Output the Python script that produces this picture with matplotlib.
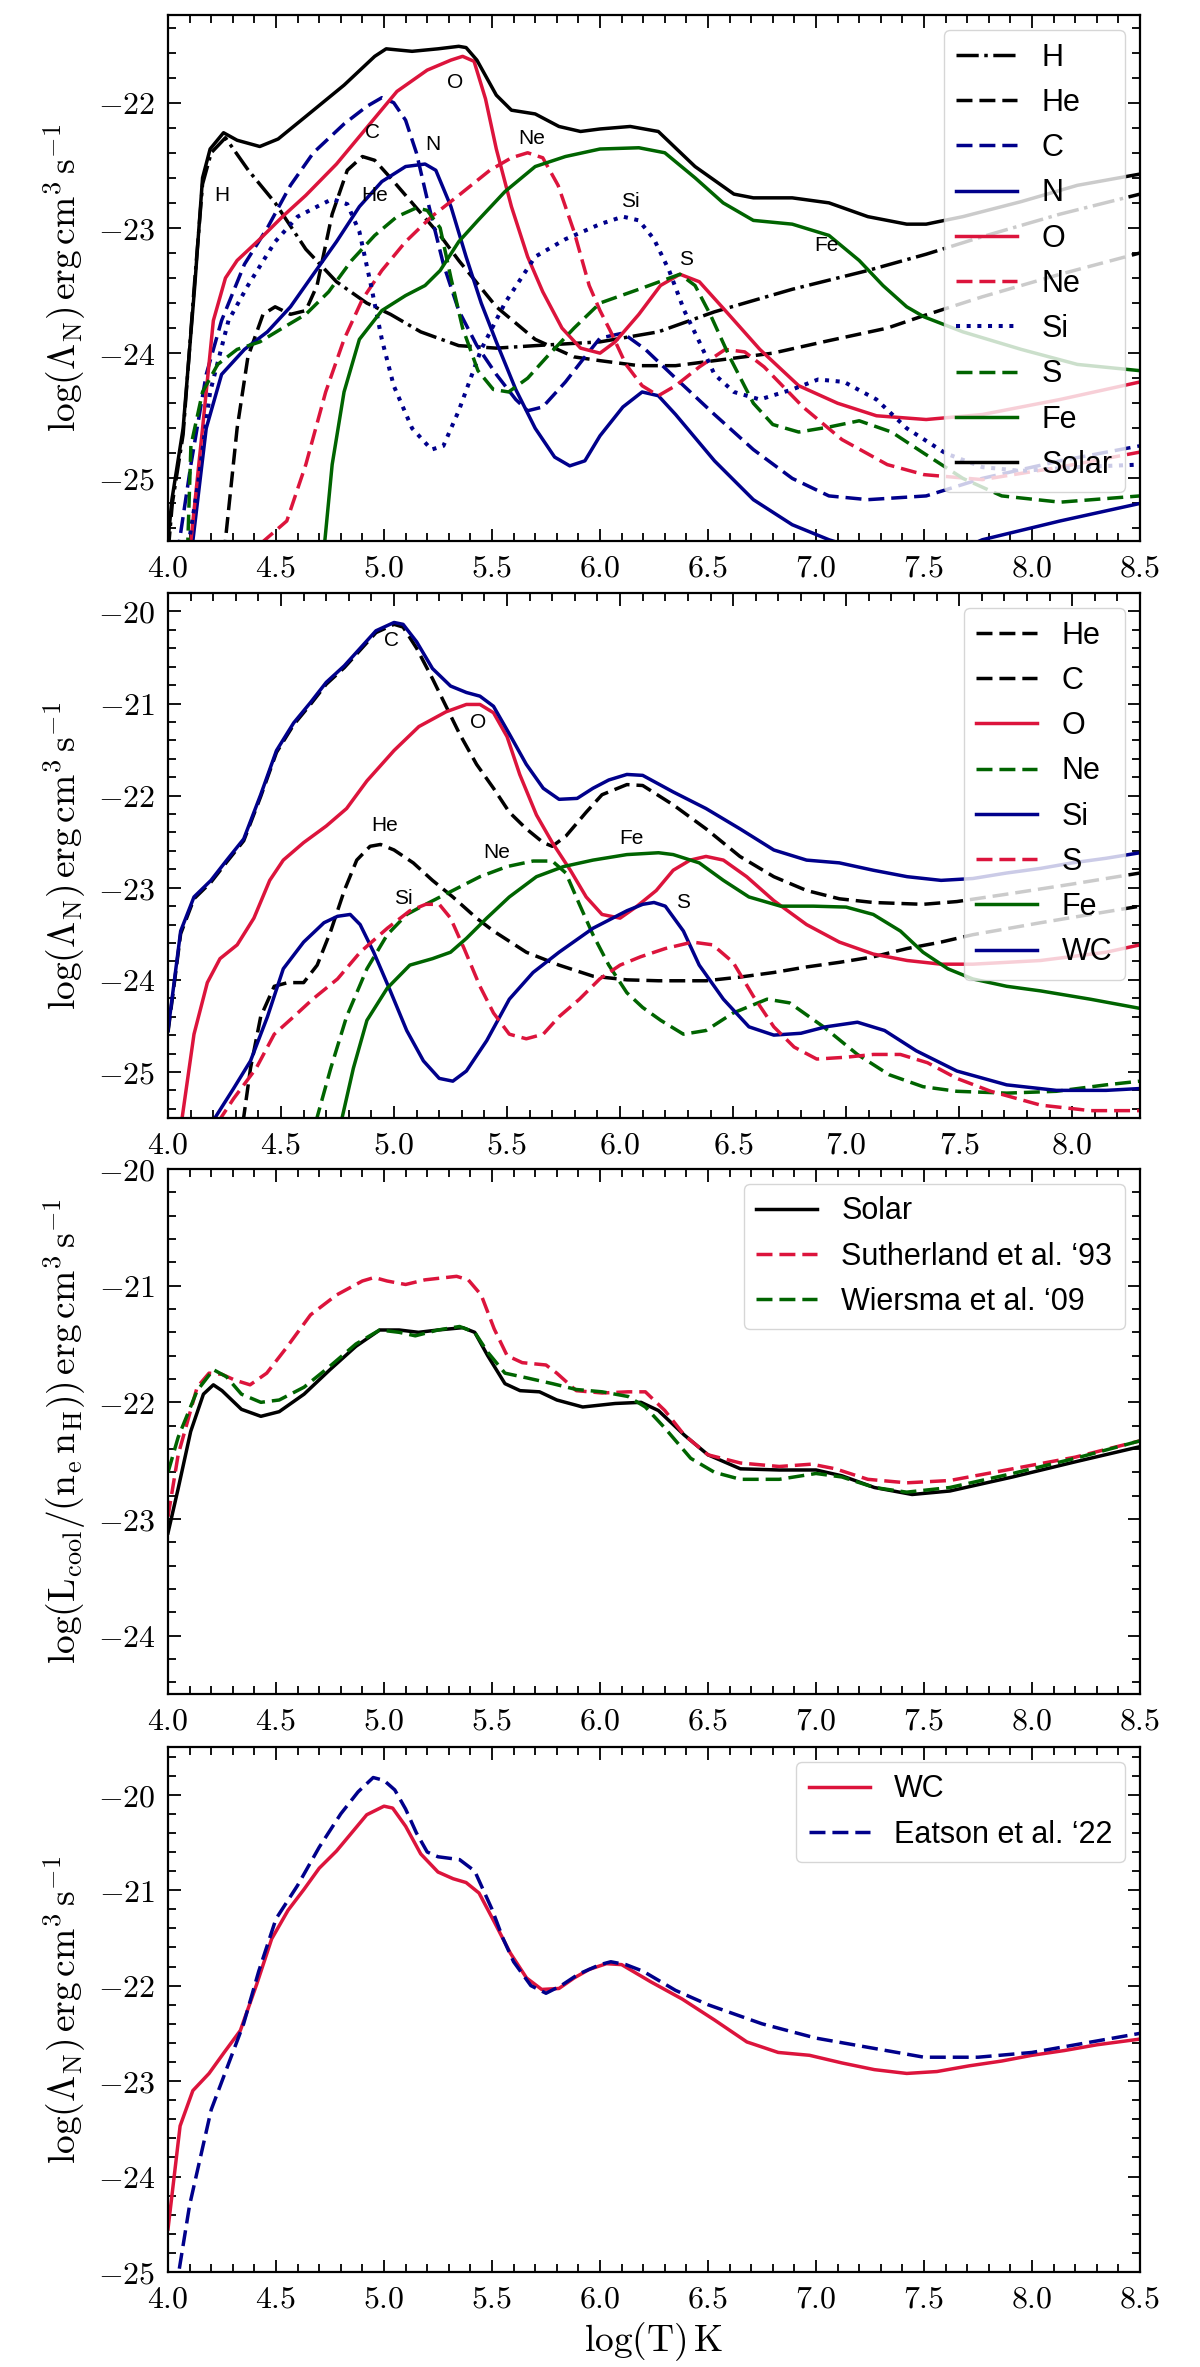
# Cooling curves: element contributions, totals and comparisons
import matplotlib
matplotlib.use("Agg")
import matplotlib.pyplot as plt
from matplotlib.ticker import MultipleLocator, FuncFormatter

plt.rcParams["mathtext.fontset"] = "cm"
plt.rcParams["font.family"] = ["Liberation Sans", "DejaVu Sans"]
plt.rcParams["lines.dashed_pattern"] = [4.6, 2.0]

BLUE = "darkblue"
RED = "crimson"
GREEN = "darkgreen"

# ---------------- panel 1: solar abundances, per element ----------------
t_h = [4.0, 4.02, 4.07, 4.12, 4.16, 4.2, 4.266, 4.372, 4.496, 4.638, 4.78, 4.92, 5.03, 5.17, 5.346,
       5.52, 5.70, 6.0, 6.27, 6.53, 6.89, 7.24, 7.51, 7.77, 8.13, 8.5]
l_h = [-25.6, -25.2, -24.65, -23.5, -22.65, -22.4, -22.28, -22.54, -22.8, -23.17, -23.43, -23.6, -23.69,
       -23.83, -23.94, -23.96, -23.94, -23.91, -23.83, -23.67, -23.49, -23.34, -23.21, -23.07, -22.89, -22.73]

t_he = [4.25, 4.266, 4.32, 4.37, 4.44, 4.496, 4.567, 4.638, 4.69, 4.76, 4.83, 4.90, 4.957, 5.03, 5.13,
        5.26, 5.346, 5.52, 5.70, 5.88, 6.0, 6.18, 6.35, 6.53, 6.8, 7.06, 7.33, 7.5, 7.77, 8.13, 8.5]
l_he = [-25.8, -25.49, -24.6, -24.03, -23.69, -23.63, -23.69, -23.66, -23.46, -22.89, -22.54, -22.43,
        -22.46, -22.6, -22.8, -23.06, -23.26, -23.63, -23.89, -24.03, -24.06, -24.1, -24.1, -24.06, -24.0,
        -23.9, -23.8, -23.7, -23.55, -23.37, -23.2]

t_c = [4.04, 4.053, 4.106, 4.177, 4.248, 4.354, 4.46, 4.567, 4.673, 4.815, 4.92, 4.99, 5.045, 5.10, 5.15,
       5.20, 5.275, 5.346, 5.43, 5.52, 5.61, 5.665, 5.735, 5.84, 5.93, 6.0, 6.106, 6.21, 6.35, 6.53, 6.71,
       6.89, 7.06, 7.24, 7.51, 7.77, 8.13, 8.5]
l_c = [-25.8, -25.5, -24.89, -24.17, -23.74, -23.29, -23.0, -22.66, -22.4, -22.17, -22.03, -21.96, -22.0,
       -22.14, -22.4, -22.77, -23.29, -23.66, -23.94, -24.17, -24.37, -24.46, -24.43, -24.23, -24.03, -23.88,
       -23.84, -23.97, -24.2, -24.49, -24.77, -25.0, -25.14, -25.17, -25.14, -25.0, -24.86, -24.74]

t_n = [4.1, 4.115, 4.177, 4.248, 4.354, 4.46, 4.567, 4.673, 4.78, 4.886, 4.99, 5.10, 5.19, 5.24, 5.31,
       5.38, 5.45, 5.52, 5.61, 5.70, 5.79, 5.86, 5.93, 6.0, 6.106, 6.195, 6.27, 6.35, 6.53, 6.71, 6.89,
       7.06, 7.3, 7.6, 7.77, 8.13, 8.5]
l_n = [-25.8, -25.5, -24.6, -24.17, -23.97, -23.83, -23.63, -23.37, -23.11, -22.83, -22.63, -22.51, -22.49,
       -22.54, -22.83, -23.23, -23.6, -23.91, -24.29, -24.6, -24.83, -24.9, -24.86, -24.66, -24.43, -24.31,
       -24.34, -24.49, -24.86, -25.17, -25.37, -25.49, -25.62, -25.62, -25.49, -25.34, -25.2]

t_o = [4.09, 4.106, 4.16, 4.21, 4.266, 4.32, 4.425, 4.53, 4.638, 4.78, 4.92, 5.06, 5.20, 5.31, 5.364,
       5.417, 5.47, 5.52, 5.59, 5.665, 5.735, 5.824, 5.91, 6.0, 6.07, 6.18, 6.28, 6.37, 6.46, 6.58, 6.74,
       6.92, 7.1, 7.28, 7.51, 7.77, 8.13, 8.5]
l_o = [-25.8, -25.5, -24.6, -23.74, -23.4, -23.26, -23.09, -22.91, -22.74, -22.49, -22.2, -21.91, -21.74,
       -21.66, -21.63, -21.67, -21.97, -22.37, -22.83, -23.23, -23.51, -23.8, -23.96, -24.0, -23.91, -23.69,
       -23.46, -23.37, -23.43, -23.66, -23.97, -24.26, -24.4, -24.5, -24.53, -24.49, -24.37, -24.23]

t_ne = [4.4, 4.443, 4.55, 4.638, 4.73, 4.815, 4.9, 4.99, 5.10, 5.22, 5.346, 5.49, 5.59, 5.665, 5.735,
        5.806, 5.88, 5.95, 6.0, 6.05, 6.12, 6.195, 6.27, 6.35, 6.46, 6.58, 6.67, 6.76, 6.94, 7.12, 7.33,
        7.5, 7.77, 8.13, 8.5]
l_ne = [-25.7, -25.5, -25.34, -24.89, -24.31, -23.89, -23.57, -23.34, -23.11, -22.91, -22.74, -22.54,
        -22.44, -22.4, -22.44, -22.66, -23.03, -23.46, -23.66, -23.83, -24.09, -24.26, -24.34, -24.26,
        -24.11, -23.97, -23.99, -24.11, -24.43, -24.69, -24.89, -24.97, -25.01, -24.91, -24.79]

t_si = [4.08, 4.14, 4.195, 4.28, 4.37, 4.496, 4.60, 4.69, 4.76, 4.83, 4.886, 4.94, 4.99, 5.045, 5.13,
        5.22, 5.275, 5.346, 5.45, 5.56, 5.70, 5.84, 6.0, 6.106, 6.18, 6.25, 6.32, 6.39, 6.46, 6.53, 6.62,
        6.74, 6.89, 7.01, 7.13, 7.28, 7.42, 7.6, 7.77, 7.95, 8.21, 8.5]
l_si = [-25.7, -25.03, -24.31, -23.74, -23.46, -23.11, -22.91, -22.83, -22.77, -22.81, -23.03, -23.46,
        -23.89, -24.26, -24.6, -24.77, -24.74, -24.46, -23.97, -23.6, -23.23, -23.09, -22.97, -22.91,
        -22.94, -23.09, -23.34, -23.66, -23.91, -24.17, -24.31, -24.37, -24.29, -24.21, -24.23, -24.37,
        -24.6, -24.8, -24.91, -24.94, -24.91, -24.89]

t_s = [4.09, 4.106, 4.16, 4.23, 4.32, 4.425, 4.53, 4.638, 4.744, 4.85, 4.957, 5.06, 5.15, 5.20, 5.26,
       5.31, 5.364, 5.435, 5.506, 5.577, 5.665, 5.754, 5.88, 6.0, 6.18, 6.37, 6.44, 6.51, 6.6, 6.71, 6.8,
       6.92, 7.06, 7.2, 7.35, 7.5, 7.68, 7.86, 8.13, 8.5]
l_s = [-25.6, -24.74, -24.31, -24.09, -23.97, -23.91, -23.8, -23.69, -23.51, -23.26, -23.06, -22.91,
       -22.84, -22.86, -23.0, -23.4, -23.8, -24.14, -24.29, -24.31, -24.2, -24.03, -23.8, -23.6, -23.49,
       -23.37, -23.46, -23.69, -24.03, -24.4, -24.57, -24.63, -24.59, -24.54, -24.63, -24.8, -25.0, -25.14,
       -25.19, -25.14]

t_fe = [4.72, 4.726, 4.76, 4.815, 4.886, 4.99, 5.10, 5.19, 5.26, 5.346, 5.435, 5.56, 5.70, 5.84, 6.0,
        6.18, 6.3, 6.44, 6.57, 6.71, 6.89, 7.06, 7.2, 7.31, 7.42, 7.5, 7.68, 7.95, 8.21, 8.5]
l_fe = [-25.8, -25.5, -24.89, -24.31, -23.89, -23.66, -23.54, -23.46, -23.34, -23.11, -22.94, -22.71,
        -22.51, -22.43, -22.37, -22.36, -22.4, -22.6, -22.8, -22.94, -22.97, -23.06, -23.26, -23.46, -23.63,
        -23.71, -23.83, -23.97, -24.09, -24.14]

t_sol = [4.0, 4.018, 4.07, 4.124, 4.16, 4.195, 4.257, 4.32, 4.425, 4.51, 4.638, 4.815, 4.957, 5.01, 5.13,
         5.25, 5.346, 5.38, 5.43, 5.52, 5.59, 5.70, 5.81, 5.91, 6.0, 6.14, 6.27, 6.44, 6.62, 6.71, 6.89,
         7.06, 7.24, 7.42, 7.51, 7.68, 7.95, 8.21, 8.5]
l_sol = [-25.5, -25.17, -24.6, -23.46, -22.6, -22.37, -22.24, -22.30, -22.35, -22.29, -22.11, -21.86,
         -21.63, -21.57, -21.59, -21.57, -21.55, -21.56, -21.66, -21.94, -22.06, -22.09, -22.19, -22.23,
         -22.21, -22.19, -22.23, -22.51, -22.73, -22.76, -22.76, -22.80, -22.91, -22.97, -22.97, -22.91,
         -22.79, -22.66, -22.57]

tags1 = ["H", "C", "He", "N", "O", "Ne", "Si", "S", "Fe"]
tags1_t = [4.248, 4.948, 4.957, 5.228, 5.33, 5.686, 6.14, 6.40, 7.05]
tags1_l = [-22.74, -22.24, -22.74, -22.33, -21.84, -22.29, -22.79, -23.25, -23.14]

# ---------------- panel 2: WC abundances, per element ----------------
t_wc = [4.0, 4.056, 4.115, 4.19, 4.26, 4.335, 4.41, 4.48, 4.556, 4.63, 4.70, 4.78, 4.85, 4.92, 5.0, 5.04,
        5.1, 5.17, 5.25, 5.32, 5.38, 5.44, 5.51, 5.585, 5.66, 5.73, 5.81, 5.88, 5.95, 6.03, 6.1, 6.235,
        6.38, 6.53, 6.68, 6.825, 6.97, 7.12, 7.27, 7.42, 7.56, 7.71, 7.86, 8.0, 8.15, 8.3, 8.5]
l_wc = [-24.55, -23.47, -23.1, -22.92, -22.7, -22.47, -21.99, -21.51, -21.21, -20.99, -20.77, -20.59,
        -20.4, -20.21, -20.12, -20.14, -20.33, -20.62, -20.81, -20.88, -20.92, -21.03, -21.33, -21.66,
        -21.92, -22.04, -22.03, -21.92, -21.83, -21.77, -21.78, -21.96, -22.14, -22.36, -22.59, -22.7,
        -22.73, -22.81, -22.88, -22.92, -22.9, -22.84, -22.79, -22.73, -22.68, -22.62, -22.56]

t_c2 = [4.0, 4.056, 4.115, 4.19, 4.26, 4.335, 4.41, 4.48, 4.556, 4.63, 4.70, 4.78, 4.85, 4.92, 5.0, 5.04,
        5.1, 5.17, 5.23, 5.29, 5.365, 5.44, 5.51, 5.585, 5.66, 5.70, 5.76, 5.85, 5.92, 6.03, 6.1, 6.235,
        6.38, 6.53, 6.68, 6.825, 6.97, 7.12, 7.34, 7.49, 7.71, 8.0, 8.3, 8.5]
l_c2 = [-24.57, -23.5, -23.12, -22.94, -22.72, -22.49, -22.01, -21.53, -21.23, -21.01, -20.79, -20.61,
        -20.42, -20.23, -20.14, -20.17, -20.4, -20.73, -21.03, -21.33, -21.66, -21.92, -22.18, -22.36,
        -22.51, -22.55, -22.44, -22.18, -21.99, -21.88, -21.89, -22.1, -22.36, -22.66, -22.88, -23.03,
        -23.12, -23.16, -23.18, -23.15, -23.07, -22.96, -22.84, -22.77]

t_he2 = [4.32, 4.335, 4.365, 4.41, 4.47, 4.53, 4.6, 4.66, 4.72, 4.78, 4.835, 4.894, 4.94, 5.0, 5.085,
         5.17, 5.26, 5.365, 5.44, 5.585, 5.73, 5.88, 6.03, 6.17, 6.38, 6.53, 6.68, 6.825, 6.97, 7.12, 7.27,
         7.42, 7.56, 7.86, 8.3, 8.5]
l_he2 = [-25.8, -25.49, -24.96, -24.4, -24.07, -24.03, -24.03, -23.84, -23.47, -23.03, -22.7, -22.55,
         -22.53, -22.59, -22.73, -22.92, -23.1, -23.33, -23.47, -23.7, -23.84, -23.96, -24.0, -24.01, -24.01,
         -23.97, -23.92, -23.86, -23.81, -23.75, -23.66, -23.59, -23.51, -23.38, -23.2, -23.12]

t_o2 = [4.05, 4.063, 4.115, 4.174, 4.23, 4.306, 4.38, 4.45, 4.51, 4.6, 4.70, 4.79, 4.88, 5.0, 5.11, 5.23,
        5.32, 5.38, 5.44, 5.5, 5.556, 5.63, 5.70, 5.78, 5.85, 5.92, 6.0, 6.07, 6.16, 6.235, 6.31, 6.38,
        6.457, 6.56, 6.68, 6.825, 6.97, 7.12, 7.27, 7.42, 7.56, 7.86, 8.15, 8.3, 8.5]
l_o2 = [-25.8, -25.49, -24.59, -24.03, -23.77, -23.62, -23.33, -22.92, -22.7, -22.51, -22.33, -22.14,
        -21.84, -21.51, -21.25, -21.09, -21.01, -21.01, -21.1, -21.36, -21.77, -22.21, -22.51, -22.81,
        -23.1, -23.29, -23.33, -23.21, -23.03, -22.81, -22.7, -22.66, -22.7, -22.88, -23.14, -23.4, -23.59,
        -23.72, -23.79, -23.83, -23.83, -23.79, -23.7, -23.62, -23.55]

t_ne2 = [4.64, 4.66, 4.72, 4.79, 4.88, 4.97, 5.056, 5.14, 5.26, 5.38, 5.5, 5.615, 5.70, 5.76, 5.82, 5.88,
         5.95, 6.03, 6.1, 6.18, 6.28, 6.38, 6.5, 6.65, 6.75, 6.9, 7.05, 7.19, 7.34, 7.49, 7.71, 7.93, 8.15,
         8.3, 8.5]
l_ne2 = [-25.8, -25.49, -24.96, -24.4, -23.88, -23.51, -23.29, -23.18, -23.03, -22.88, -22.77, -22.71,
         -22.71, -22.84, -23.18, -23.51, -23.84, -24.14, -24.3, -24.44, -24.59, -24.55, -24.36, -24.21,
         -24.25, -24.51, -24.81, -25.03, -25.16, -25.21, -25.23, -25.21, -25.14, -25.1, -25.05]

t_si2 = [4.19, 4.21, 4.29, 4.365, 4.44, 4.51, 4.6, 4.69, 4.75, 4.806, 4.85, 4.91, 4.98, 5.056, 5.13, 5.2,
         5.26, 5.32, 5.41, 5.51, 5.615, 5.73, 5.88, 6.03, 6.1, 6.15, 6.2, 6.28, 6.35, 6.457, 6.57, 6.68,
         6.8, 6.91, 7.05, 7.17, 7.31, 7.49, 7.71, 7.93, 8.15, 8.3, 8.5]
l_si2 = [-25.8, -25.49, -25.18, -24.88, -24.4, -23.88, -23.59, -23.38, -23.31, -23.29, -23.4, -23.7,
         -24.1, -24.55, -24.88, -25.07, -25.1, -24.99, -24.66, -24.21, -23.92, -23.7, -23.44, -23.25,
         -23.18, -23.16, -23.2, -23.47, -23.84, -24.21, -24.51, -24.6, -24.58, -24.51, -24.46, -24.55,
         -24.77, -24.99, -25.14, -25.2, -25.2, -25.18, -25.15]

t_s2 = [4.2, 4.22, 4.29, 4.39, 4.47, 4.556, 4.64, 4.75, 4.85, 4.97, 5.07, 5.14, 5.2, 5.25, 5.31, 5.38,
        5.44, 5.51, 5.585, 5.66, 5.73, 5.82, 5.91, 6.0, 6.09, 6.2, 6.32, 6.41, 6.5, 6.59, 6.68, 6.77, 6.87,
        7.0, 7.12, 7.24, 7.36, 7.49, 7.64, 7.86, 8.08, 8.3, 8.5]
l_s2 = [-25.8, -25.55, -25.29, -24.96, -24.59, -24.4, -24.21, -23.99, -23.7, -23.44, -23.25, -23.18,
        -23.18, -23.33, -23.66, -24.07, -24.36, -24.59, -24.64, -24.59, -24.4, -24.21, -23.99, -23.84,
        -23.75, -23.66, -23.59, -23.62, -23.81, -24.18, -24.51, -24.73, -24.86, -24.84, -24.81, -24.81,
        -24.9, -25.07, -25.21, -25.36, -25.42, -25.42, -25.42]

t_fe2 = [4.75, 4.77, 4.82, 4.88, 4.97, 5.07, 5.17, 5.25, 5.32, 5.41, 5.51, 5.63, 5.75, 5.88, 6.03, 6.17,
         6.235, 6.35, 6.457, 6.57, 6.71, 6.855, 7.0, 7.12, 7.24, 7.34, 7.45, 7.56, 7.71, 7.86, 8.08, 8.3, 8.5]
l_fe2 = [-25.8, -25.5, -24.96, -24.44, -24.09, -23.84, -23.77, -23.7, -23.55, -23.33, -23.1, -22.88,
         -22.77, -22.7, -22.64, -22.62, -22.64, -22.73, -22.92, -23.1, -23.2, -23.2, -23.21, -23.29, -23.47,
         -23.7, -23.88, -23.99, -24.07, -24.12, -24.21, -24.31, -24.38]

tags2 = ["C", "O", "He", "Ne", "Fe", "Si", "S"]
tags2_t = [4.99, 5.37, 4.957, 5.456, 6.05, 5.04, 6.28]
tags2_l = [-20.32, -21.21, -22.32, -22.62, -22.47, -23.12, -23.16]

# ---------------- panel 3: solar total vs literature ----------------
t_sol3 = [4.0, 4.047, 4.105, 4.164, 4.21, 4.25, 4.34, 4.43, 4.515, 4.63, 4.75, 4.87, 4.98, 5.07, 5.16,
          5.25, 5.365, 5.42, 5.48, 5.56, 5.63, 5.72, 5.8, 5.92, 6.07, 6.19, 6.27, 6.39, 6.5, 6.65, 6.83,
          7.0, 7.12, 7.27, 7.445, 7.62, 7.91, 8.2, 8.5]
l_sol3 = [-23.12, -22.74, -22.25, -21.93, -21.85, -21.9, -22.06, -22.12, -22.08, -21.93, -21.72, -21.52,
          -21.38, -21.38, -21.4, -21.38, -21.36, -21.4, -21.6, -21.84, -21.9, -21.91, -21.98, -22.04,
          -22.01, -22.0, -22.07, -22.28, -22.45, -22.57, -22.58, -22.58, -22.63, -22.73, -22.79, -22.76,
          -22.64, -22.51, -22.38]

t_suth = [4.0, 4.047, 4.135, 4.19, 4.25, 4.31, 4.38, 4.457, 4.545, 4.66, 4.78, 4.9, 4.955, 5.014, 5.1,
          5.19, 5.336, 5.39, 5.45, 5.51, 5.57, 5.64, 5.75, 5.8, 5.89, 6.01, 6.13, 6.21, 6.3, 6.39, 6.5,
          6.65, 6.83, 6.98, 7.09, 7.24, 7.42, 7.62, 7.91, 8.2, 8.5]
l_suth = [-22.98, -22.45, -21.87, -21.75, -21.76, -21.81, -21.85, -21.75, -21.54, -21.25, -21.08, -20.96,
          -20.93, -20.96, -20.99, -20.95, -20.92, -20.95, -21.08, -21.37, -21.6, -21.66, -21.68, -21.75,
          -21.9, -21.92, -21.91, -21.91, -22.07, -22.28, -22.45, -22.52, -22.55, -22.53, -22.57, -22.66,
          -22.69, -22.67, -22.57, -22.47, -22.33]

t_wier = [4.0, 4.047, 4.135, 4.21, 4.27, 4.34, 4.43, 4.515, 4.63, 4.75, 4.87, 4.98, 5.07, 5.145, 5.25,
          5.35, 5.42, 5.48, 5.56, 5.66, 5.78, 5.89, 6.01, 6.13, 6.21, 6.3, 6.42, 6.53, 6.65, 6.83, 7.0, 7.12,
          7.27, 7.42, 7.62, 7.91, 8.2, 8.5]
l_wier = [-22.6, -22.3, -21.9, -21.72, -21.78, -21.93, -22.0, -21.98, -21.87, -21.69, -21.5, -21.38,
          -21.4, -21.43, -21.38, -21.35, -21.4, -21.57, -21.75, -21.79, -21.84, -21.89, -21.91, -21.95,
          -22.04, -22.22, -22.48, -22.6, -22.66, -22.66, -22.61, -22.64, -22.73, -22.77, -22.73, -22.61,
          -22.48, -22.33]

# ---------------- panel 4: WC total vs Eatson et al. ----------------
t_eat = [4.03, 4.05, 4.1, 4.2, 4.3, 4.35, 4.42, 4.5, 4.6, 4.7, 4.8, 4.88, 4.95, 5.0, 5.05, 5.1, 5.15,
         5.2, 5.25, 5.35, 5.42, 5.5, 5.55, 5.6, 5.68, 5.75, 5.82, 5.9, 6.0, 6.05, 6.12, 6.2, 6.35, 6.5,
         6.75, 7.0, 7.25, 7.5, 7.75, 8.0, 8.25, 8.5]
l_eat = [-25.2, -25.0, -24.3, -23.3, -22.7, -22.4, -21.85, -21.3, -20.95, -20.55, -20.2, -19.97, -19.82,
         -19.85, -19.95, -20.15, -20.4, -20.6, -20.65, -20.68, -20.8, -21.2, -21.5, -21.75, -22.0, -22.08,
         -22.0, -21.88, -21.78, -21.75, -21.78, -21.85, -22.05, -22.2, -22.4, -22.55, -22.65, -22.75,
         -22.75, -22.7, -22.6, -22.5]

YLAB = r"$\log(\Lambda_{\rm N})\,{\rm erg\,cm^3\,s^{-1}}$"
YLAB3 = r"$\log({\rm L_{cool}}/({\rm n_e\,n_H}))\,{\rm erg\,cm^3\,s^{-1}}$"


def style_axes(ax, xlim, ylim, ylabel):
    ax.set_xlim(*xlim)
    ax.set_ylim(*ylim)
    ax.xaxis.set_major_locator(MultipleLocator(0.5))
    ax.xaxis.set_minor_locator(MultipleLocator(0.1))
    ax.yaxis.set_major_locator(MultipleLocator(1))
    ax.yaxis.set_minor_locator(MultipleLocator(0.2))
    ax.xaxis.set_major_formatter(FuncFormatter(lambda v, p: "$%.1f$" % v))
    ax.yaxis.set_major_formatter(FuncFormatter(lambda v, p: "$%d$" % round(v)))
    ax.tick_params(which="both", direction="in", top=True, right=True, width=1.3, labelsize=23, pad=9)
    ax.tick_params(which="major", length=9)
    ax.tick_params(which="minor", length=6)
    for sp in ax.spines.values():
        sp.set_linewidth(1.6)
    ax.set_ylabel(ylabel, fontsize=27)
    ax.yaxis.set_label_coords(-0.082, 0.5)


def tag(ax, names, xs, ys):
    for n, x, y in zip(names, xs, ys):
        ax.text(x, y, n, fontsize=15, ha="center", va="center")


fig = plt.figure(figsize=(12, 23.67), dpi=100)
LW = 2.5

# panel 1
ax1 = fig.add_axes([0.14, 0.77144, 0.81, 0.22222])
ax1.plot(t_h, l_h, color="black", ls="-.", lw=LW, label="H")
ax1.plot(t_he, l_he, color="black", ls="--", lw=LW, label="He")
ax1.plot(t_c, l_c, color=BLUE, ls="--", lw=LW, label="C")
ax1.plot(t_n, l_n, color=BLUE, ls="-", lw=LW, label="N")
ax1.plot(t_o, l_o, color=RED, ls="-", lw=LW, label="O")
ax1.plot(t_ne, l_ne, color=RED, ls="--", lw=LW, label="Ne")
ax1.plot(t_si, l_si, color=BLUE, ls=":", lw=LW + 0.4, label="Si")
ax1.plot(t_s, l_s, color=GREEN, ls="--", lw=LW, label="S")
ax1.plot(t_fe, l_fe, color=GREEN, ls="-", lw=LW, label="Fe")
ax1.plot(t_sol, l_sol, color="black", ls="-", lw=LW, label="Solar")
tag(ax1, tags1, tags1_t, tags1_l)
style_axes(ax1, (4.0, 8.5), (-25.5, -21.3), YLAB)
ax1.legend(loc="upper right", fontsize=22)

# panel 2
ax2 = fig.add_axes([0.14, 0.52767, 0.81, 0.2218])
ax2.plot(t_he2, l_he2, color="black", ls="--", lw=LW, label="He")
ax2.plot(t_c2, l_c2, color="black", ls="--", lw=LW, label="C")
ax2.plot(t_o2, l_o2, color=RED, ls="-", lw=LW, label="O")
ax2.plot(t_ne2, l_ne2, color=GREEN, ls="--", lw=LW, label="Ne")
ax2.plot(t_si2, l_si2, color=BLUE, ls="-", lw=LW, label="Si")
ax2.plot(t_s2, l_s2, color=RED, ls="--", lw=LW, label="S")
ax2.plot(t_fe2, l_fe2, color=GREEN, ls="-", lw=LW, label="Fe")
ax2.plot(t_wc, l_wc, color=BLUE, ls="-", lw=LW, label="WC")
tag(ax2, tags2, tags2_t, tags2_l)
style_axes(ax2, (4.0, 8.3), (-25.5, -19.8), YLAB)
ax2.legend(loc="upper right", fontsize=22)

# panel 3
ax3 = fig.add_axes([0.14, 0.28433, 0.81, 0.2218])
ax3.plot(t_sol3, l_sol3, color="black", ls="-", lw=LW, label="Solar")
ax3.plot(t_suth, l_suth, color=RED, ls="--", lw=LW, label="Sutherland et al. \u201893")
ax3.plot(t_wier, l_wier, color=GREEN, ls="--", lw=LW, label="Wiersma et al. \u201809")
style_axes(ax3, (4.0, 8.5), (-24.5, -20.0), YLAB3)
ax3.legend(loc="upper right", fontsize=22)

# panel 4
ax4 = fig.add_axes([0.14, 0.04014, 0.81, 0.2218])
ax4.plot(t_wc, l_wc, color=RED, ls="-", lw=LW, label="WC")
ax4.plot(t_eat, l_eat, color=BLUE, ls="--", lw=LW, label="Eatson et al. \u201822")
style_axes(ax4, (4.0, 8.5), (-25.0, -19.5), YLAB)
ax4.set_xlabel(r"$\log({\rm T})\,{\rm K}$", fontsize=27)
ax4.legend(loc="upper right", fontsize=22)

fig.savefig("out.png", dpi=100)
